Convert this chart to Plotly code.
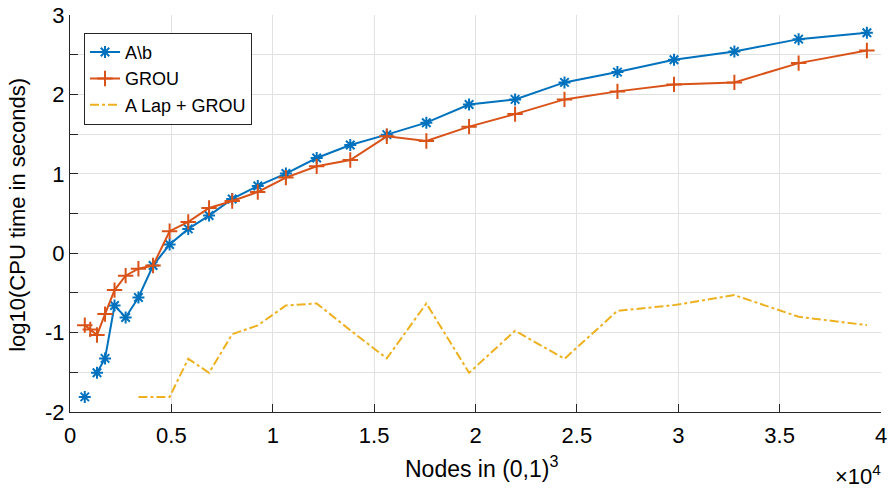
import plotly.graph_objects as go

# Data
nodes = [729, 1000, 1331, 1728, 2197, 2744, 3375, 4096, 4913, 5832, 6859, 8000, 9261,
         10648, 12167, 13824, 15625, 17576, 19683, 21952, 24389, 27000, 29791, 32768,
         35937, 39304]
a_b = [-1.81, None, -1.506, -1.325, -0.658, -0.809, -0.557, -0.155, 0.109, 0.306, 0.474,
       0.683, 0.847, 1.003, 1.199, 1.362, 1.493, 1.644, 1.872, 1.937, 2.151, 2.281,
       2.436, 2.541, 2.696, 2.776]
grou = [-0.906, -0.960, -1.031, -0.767, -0.465, -0.283, -0.195, -0.155, 0.277, 0.394,
        0.570, 0.658, 0.771, 0.952, 1.094, 1.174, 1.472, 1.413, 1.594, 1.752, 1.937,
        2.038, 2.126, 2.151, 2.394, 2.553]
alap_grou = [None, None, None, None, None, None, -1.81, -1.81, -1.81, -1.33, -1.506,
             -1.02, -0.91, -0.658, -0.633, -0.97, -1.325, -0.633, -1.506, -0.977, -1.33,
             -0.726, -0.654, -0.528, -0.801, -0.906]

x_tickvals = [0, 5000, 10000, 15000, 20000, 25000, 30000, 35000, 40000]
x_ticktext = ["0", "0.5", "1", "1.5", "2", "2.5", "3", "3.5", "4"]
y_tickvals = [-2, -1.5, -1, -0.5, 0, 0.5, 1, 1.5, 2, 2.5, 3]
y_ticktext = ["-2", "", "-1", "", "0", "", "1", "", "2", "", "3"]

FONT = "Liberation Sans, Arial, Helvetica, sans-serif"
AX = "#262626"
GRID = "#e1e1e1"

fig = go.Figure()
fig.add_trace(go.Scatter(
    x=nodes, y=a_b, name="A\\b", mode="lines+markers",
    line=dict(color="#0072BD", width=2),
    marker=dict(symbol="asterisk-open", size=10, color="#0072BD",
                line=dict(color="#0072BD", width=2)),
    connectgaps=False))
fig.add_trace(go.Scatter(
    x=nodes, y=grou, name="GROU", mode="lines+markers",
    line=dict(color="#D95319", width=2),
    marker=dict(symbol="cross-thin-open", size=11, color="#D95319",
                line=dict(color="#D95319", width=2))))
fig.add_trace(go.Scatter(
    x=nodes, y=alap_grou, name="A Lap + GROU", mode="lines",
    line=dict(color="#EDB120", width=2, dash="dashdot")))

fig.update_layout(
    width=893, height=489,
    margin=dict(l=70, r=12, t=15, b=77, autoexpand=False),
    paper_bgcolor="white", plot_bgcolor="white",
    font=dict(family=FONT, color=AX, size=20),
    showlegend=True,
    legend=dict(x=0.0173, y=0.955, xanchor="left", yanchor="top",
                bgcolor="white", bordercolor=AX, borderwidth=1,
                font=dict(size=18, color="black"), tracegroupgap=0),
    xaxis=dict(range=[0, 40000], tickvals=x_tickvals, ticktext=x_ticktext,
               showgrid=True, gridcolor=GRID, gridwidth=1, automargin=False,
               showline=True, linecolor=AX, linewidth=1,
               ticks="inside", ticklen=8, tickcolor=AX, tickwidth=1,
               ticklabelstandoff=4,
               tickfont=dict(size=22, color="black"), zeroline=False),
    yaxis=dict(range=[-2, 3], tickvals=y_tickvals, ticktext=y_ticktext,
               showgrid=True, gridcolor=GRID, gridwidth=1, automargin=False,
               showline=True, linecolor=AX, linewidth=1,
               ticks="inside", ticklen=8, tickcolor=AX, tickwidth=1,
               tickfont=dict(size=22, color="black"), zeroline=False),
)
# axis titles
fig.add_annotation(x=0.508, y=-0.1385, xref="paper", yref="paper", xanchor="center",
                   yanchor="middle", showarrow=False,
                   text="Nodes in (0,1)<sup>3</sup>", font=dict(size=23, color="black", family=FONT))
fig.add_annotation(x=-0.064, y=0.497, xref="paper", yref="paper", xanchor="center",
                   yanchor="middle", showarrow=False, textangle=-90,
                   text="log10(CPU time in seconds)", font=dict(size=22, color="black", family=FONT))
fig.add_annotation(x=1.003, y=-0.159, xref="paper", yref="paper", xanchor="right",
                   yanchor="middle", showarrow=False,
                   text="×10<sup>4</sup>", font=dict(size=22, color="black", family=FONT))
fig.write_html("out.html", config={"displayModeBar": False},
               post_script="document.body.style.margin='0';document.body.style.overflow='hidden';")
